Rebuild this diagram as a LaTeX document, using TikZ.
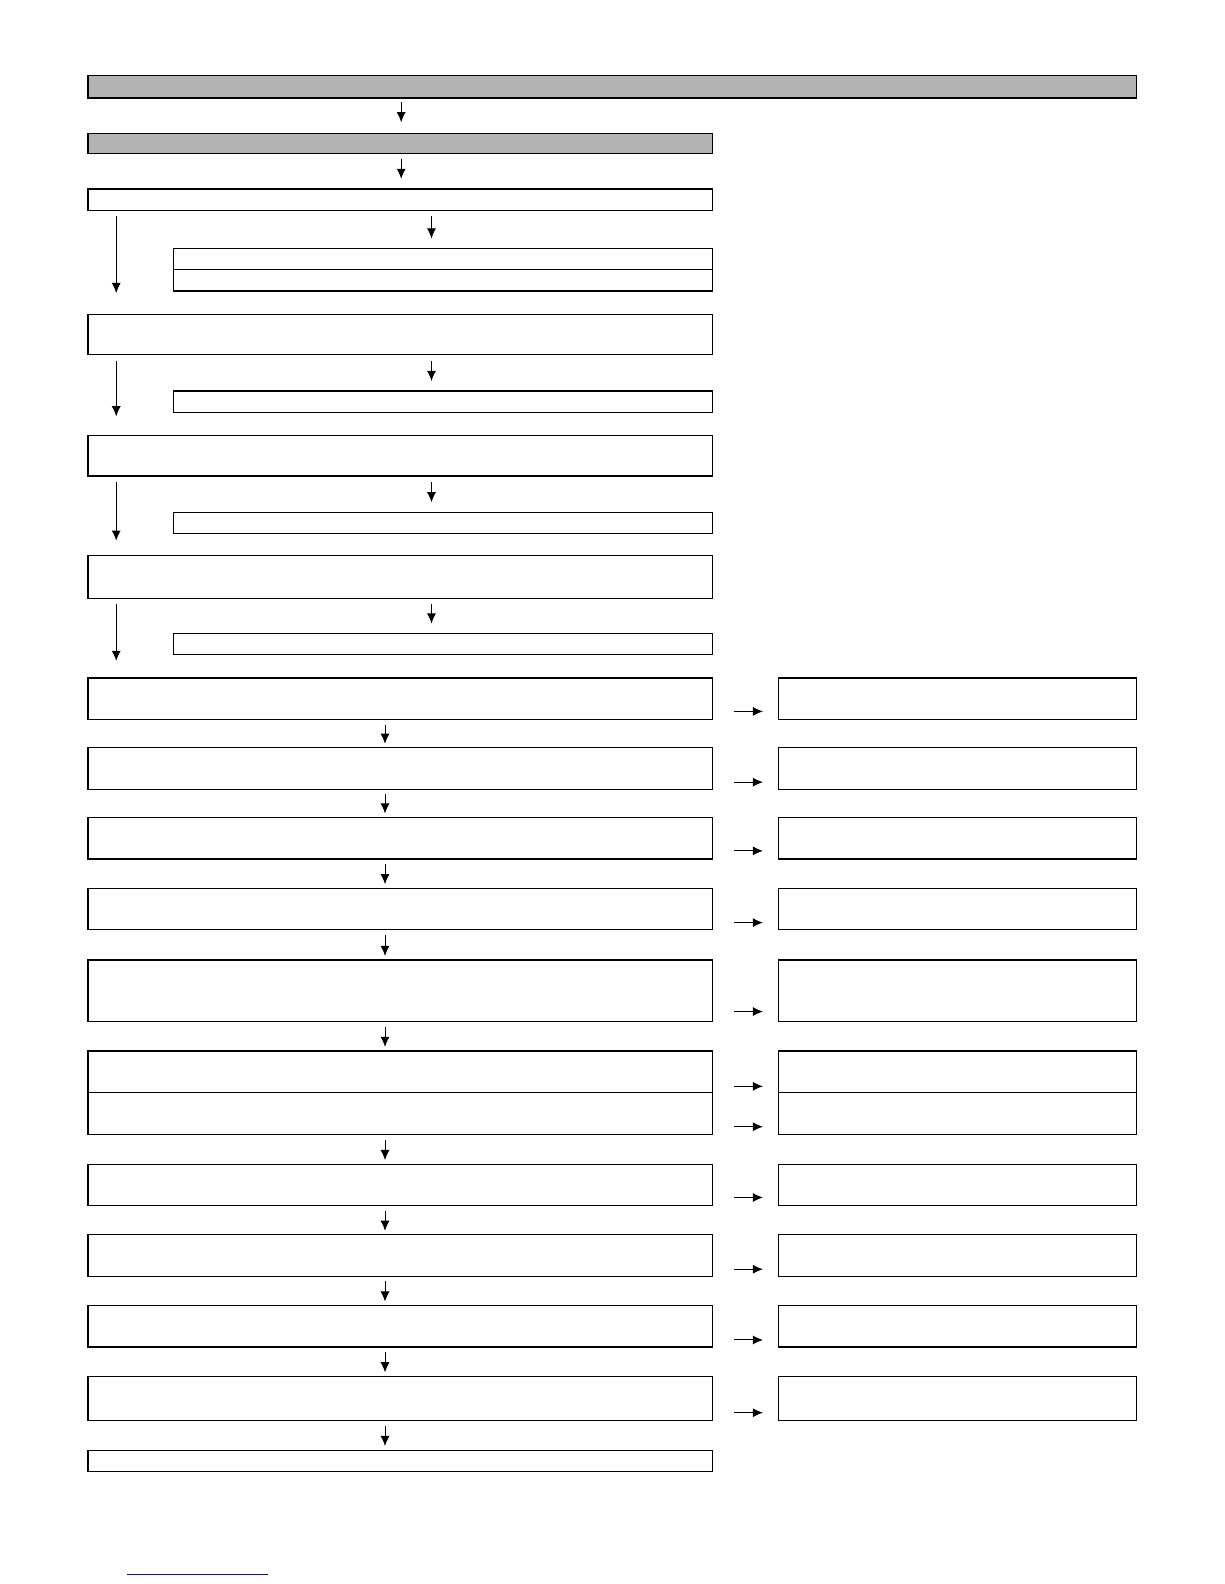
\documentclass[tikz,border=0pt]{standalone}
\usepackage{tikz}
\usetikzlibrary{arrows.meta}
\definecolor{boxgray}{RGB}{179,179,179}
\definecolor{linkblue}{RGB}{25,25,125}
\begin{document}
\begin{tikzpicture}[x=0.5pt,y=-0.5pt]
\tikzstyle{bx}=[draw,line width=0.6pt,inner sep=0pt,outer sep=0pt,minimum height=20.5pt]
\tikzstyle{full}=[bx,minimum width=519pt]
\tikzstyle{wide}=[bx,minimum width=309pt]
\tikzstyle{half}=[bx,minimum width=266.5pt,minimum height=10.5pt]
\tikzstyle{side}=[bx,minimum width=177.5pt]
\tikzstyle{arr}=[-{Latex[length=5pt,width=4.5pt]},line width=0.5pt]
\useasboundingbox (0,0) rectangle (1211.3,1567.5);
% upper part
\node[full,fill=boxgray,minimum height=11pt] (g1) at (606,86) {};
\node[wide,fill=boxgray,minimum height=10pt] (g2) at (396,142) {};
\node[wide,minimum height=10.5pt] (b3) at (396,197.5) {};
\node[half] (s4a) at (438.5,256.5) {};
\node[half] (s4b) at (438.5,277.5) {};
\node[wide,minimum height=20pt] (b5) at (396,331) {};
\node[half] (s6) at (438.5,397.5) {};
\node[wide,minimum height=20pt] (b7) at (396,451) {};
\node[half] (s8) at (438.5,517.5) {};
\node[wide,minimum height=21pt] (b9) at (396,571) {};
\node[half] (s10) at (438.5,637.5) {};
% lower part, main column and side column
\node[wide] (m11) at (396,691.5) {};    \node[side] (r11) at (947.5,691.5) {};
\node[wide] (m12) at (396,760.5) {};    \node[side] (r12) at (947.5,760.5) {};
\node[wide] (m13) at (396,829.5) {};    \node[side] (r13) at (947.5,829.5) {};
\node[wide] (m14) at (396,899.5) {};    \node[side] (r14) at (947.5,899.5) {};
\node[wide,minimum height=30.5pt] (m15) at (396,980.5) {};
\node[side,minimum height=30.5pt] (r15) at (947.5,980.5) {};
\node[wide] (m16a) at (396,1060.5) {};  \node[side] (r16a) at (947.5,1060.5) {};
\node[wide,minimum height=21pt] (m16b) at (396,1102) {};
\node[side,minimum height=21pt] (r16b) at (947.5,1102) {};
\node[wide] (m17) at (396,1172.5) {};   \node[side] (r17) at (947.5,1172.5) {};
\node[wide] (m18) at (396,1242.5) {};   \node[side] (r18) at (947.5,1242.5) {};
\node[wide] (m19) at (396,1312.5) {};   \node[side] (r19) at (947.5,1312.5) {};
\node[wide,minimum height=22pt] (m20) at (396,1384) {};
\node[side,minimum height=22pt] (r20) at (947.5,1384) {};
\node[wide,minimum height=10.5pt] (b21) at (396,1445.5) {};
% arrows
\draw[arr,shorten <=2pt,shorten >=5.5pt] (g1.south -| 397,0) -- (g2.north -| 397,0);
\draw[arr,shorten <=2.5pt,shorten >=5pt] (g2.south -| 397,0) -- (b3.north -| 397,0);
\foreach \a/\b in {b3/s4a,b5/s6,b7/s8,b9/s10}
  \draw[arr,shorten <=3pt,shorten >=5pt] (\a.south -| 427,0) -- (\b.north -| 427,0);
\foreach \a/\b/\s in {b3/b5/10.5,b5/b7/9.5,b7/b9/7.5,b9/m11/8.5}
  \draw[arr,shorten <=3pt,shorten >=\s pt] (\a.south -| 115,0) -- (\b.north -| 115,0);
\foreach \a/\b in {m11/m12,m12/m13,m13/m14,m14/m15,m15/m16a,m16b/m17,m17/m18,m18/m19,m19/m20,m20/b21}
  \draw[arr,shorten <=2.5pt,shorten >=2pt] (\a.south -| 381,0) -- (\b.north -| 381,0);
\foreach \n/\y in {11/704,12/774,13/842,14/913,15/1001,16a/1075,16b/1115,17/1185,18/1256,19/1326,20/1398}
  \draw[arr,shorten <=10.5pt,shorten >=7.5pt] (m\n.east |- 0,\y) -- (r\n.west |- 0,\y);
% footer rule
\draw[linkblue,line width=0.75pt] (126,1558) -- (265,1558);
\end{tikzpicture}
\end{document}
